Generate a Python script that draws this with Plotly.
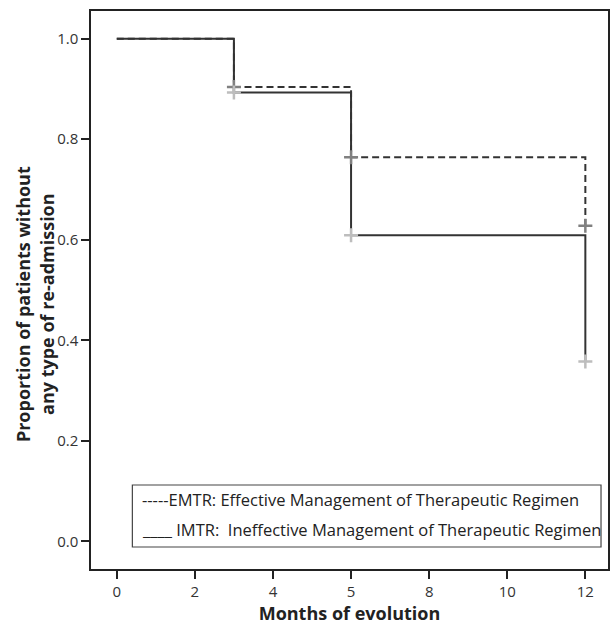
import plotly.graph_objects as go

# Data
months = [0, 3, 6, 12]
emtr_surv = [1.0, 0.904, 0.764, 0.628]
imtr_surv = [1.0, 0.893, 0.609, 0.358]
censor_months = [3, 6, 12]
emtr_censor = [0.904, 0.764, 0.628]
imtr_censor = [0.893, 0.609, 0.358]
x_tick_vals = [0, 2, 4, 6, 8, 10, 12]
x_tick_text = ["0", "2", "4", "5", "8", "10", "12"]
y_tick_vals = [0.0, 0.2, 0.4, 0.6, 0.8, 1.0]
legend_lines = [
    "-----EMTR: Effective Management of Therapeutic Regimen",
    "____ IMTR:\u00a0 Ineffective Management of Therapeutic Regimen",
]
y_title = "<b>Proportion of patients without<br>any type of re-admission</b>"
x_title = "<b>Months of evolution</b>"

FONT = "Open Sans"
fig = go.Figure()

fig.add_trace(go.Scatter(x=months, y=imtr_surv, mode="lines", line_shape="hv",
                         line=dict(color="#333333", width=2), showlegend=False,
                         hoverinfo="skip"))
fig.add_trace(go.Scatter(x=months, y=emtr_surv, mode="lines", line_shape="hv",
                         line=dict(color="#333333", width=2, dash="7px,4px"), showlegend=False,
                         hoverinfo="skip"))
fig.add_trace(go.Scatter(x=censor_months, y=emtr_censor, mode="markers",
                         marker=dict(symbol="cross-thin", size=10,
                                     line=dict(color="#808080", width=2.5)),
                         showlegend=False, hoverinfo="skip"))
fig.add_trace(go.Scatter(x=censor_months, y=imtr_censor, mode="markers",
                         marker=dict(symbol="cross-thin", size=10,
                                     line=dict(color="#bdbdbd", width=2.5)),
                         showlegend=False, hoverinfo="skip"))

# legend box
fig.add_shape(type="rect", xref="paper", yref="paper",
              x0=0.080, x1=0.9865, y0=0.0394, y1=0.1505,
              line=dict(color="#444444", width=1.2), fillcolor="white")
for txt, yy in zip(legend_lines, [0.1237, 0.0699]):
    fig.add_annotation(xref="paper", yref="paper", x=0.094, y=yy,
                       xanchor="left", yanchor="middle", showarrow=False,
                       text=txt, font=dict(family=FONT, size=16.5, color="#222222"))

# y-axis title as rotated annotation
fig.add_annotation(xref="paper", yref="paper", x=-0.108, y=0.475,
                   xanchor="center", yanchor="middle", showarrow=False,
                   textangle=-90, text=y_title,
                   font=dict(family=FONT, size=18, color="#222222"))

fig.update_layout(
    width=611, height=628,
    margin=dict(l=91, r=1, t=11, b=59),
    paper_bgcolor="white", plot_bgcolor="white",
    font=dict(family=FONT, color="#333333"),
    xaxis=dict(range=[-0.66, 12.58], tickvals=x_tick_vals, ticktext=x_tick_text,
               showgrid=False, zeroline=False, showline=True, mirror=True,
               linecolor="#222222", linewidth=1.5, ticks="outside", ticklen=8,
               tickwidth=1.5, tickcolor="#222222",
               tickfont=dict(family=FONT, size=15, color="#333333"),
               title=dict(text=x_title, standoff=8,
                          font=dict(family=FONT, size=18, color="#222222"))),
    yaxis=dict(range=[-0.055, 1.055], tickvals=y_tick_vals, tickformat=".1f",
               showgrid=False, zeroline=False, showline=True, mirror=True,
               linecolor="#222222", linewidth=1.5, ticks="outside", ticklen=8,
               tickwidth=1.5, tickcolor="#222222",
               tickfont=dict(family=FONT, size=15, color="#333333")),
)

fig.write_html("out.html", config={"displayModeBar": False},
               post_script="document.body.style.margin='0';document.body.style.overflow='hidden';")
